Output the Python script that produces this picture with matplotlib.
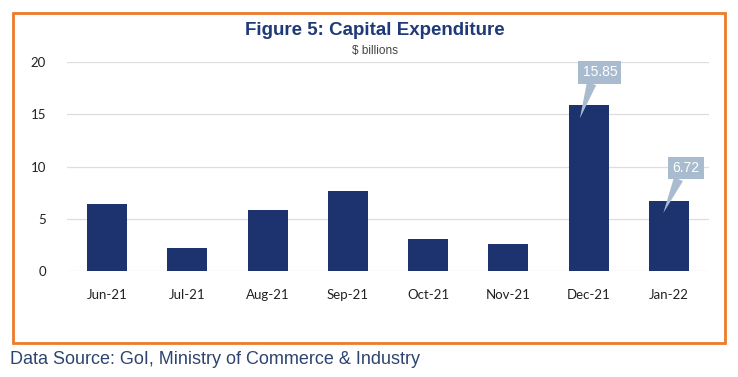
import numpy as np
import matplotlib.pyplot as plt
from matplotlib.patches import Rectangle

months = ['Jun-21', 'Jul-21', 'Aug-21', 'Sep-21', 'Oct-21', 'Nov-21', 'Dec-21', 'Jan-22']
capex = [6.45, 2.2, 5.85, 7.7, 3.1, 2.6, 15.85, 6.72]
labelled = {6: '15.85', 7: '6.72'}

navy = '#1d3370'

fig = plt.figure(figsize=(7.38, 3.77), dpi=100)
ax = fig.add_axes([0.0908, 0.2812, 0.870, 0.5543])

x = np.arange(len(months))
ax.bar(x, capex, width=0.5, color=navy, zorder=3)

ax.set_xlim(-0.5, len(months) - 0.5)
ax.set_ylim(0, 20)
ax.set_yticks([0, 5, 10, 15, 20])
ax.set_xticks(x)
ax.set_xticklabels(months)
ax.grid(axis='y', color='#dedede', lw=0.9, zorder=0)
for s in ax.spines.values():
    s.set_visible(False)
ax.tick_params(length=0, labelsize=9.5, colors='#222222')
ax.tick_params(axis='x', pad=13)
ax.tick_params(axis='y', pad=15)
for t in ax.get_xticklabels() + ax.get_yticklabels():
    t.set_family('Lato')

# callouts
offs = {6: (0.14, 19.0, -0.11, 14.6), 7: (0.21, 9.86, -0.07, 5.55)}
for i, txt in labelled.items():
    bx, by, tx, ty = offs[i]
    ax.annotate(txt, xy=(i + tx, ty), xytext=(i + bx, by),
                ha='center', va='center', color='white', fontsize=10,
                family='Liberation Sans', zorder=5,
                bbox=dict(boxstyle='square,pad=0.3', fc='#a9bccf', ec='none'),
                arrowprops=dict(arrowstyle='wedge,tail_width=0.7', fc='#a9bccf',
                                ec='none', shrinkA=0, shrinkB=0,
                                relpos=(0.3, 0.0)))

fig.text(0.508, 0.918, 'Figure 5: Capital Expenditure', ha='center', va='center',
         fontsize=13.5, fontweight='bold', color='#1f3a78', family='Liberation Sans')
fig.text(0.508, 0.866, '$ billions', ha='center', va='center',
         fontsize=8.5, color='#444444', family='Liberation Sans')

fig.patches.append(Rectangle((13 / 738, 1 - 343 / 377), 712 / 738, 330 / 377,
                             transform=fig.transFigure, fill=False,
                             ec='#ee7a2a', lw=2))

fig.text(10 / 738, 1 - 360 / 377, 'Data Source: GoI, Ministry of Commerce & Industry',
         ha='left', va='center', fontsize=13, color='#2e4470', family='Liberation Sans')

plt.savefig('out.png', dpi=100)
